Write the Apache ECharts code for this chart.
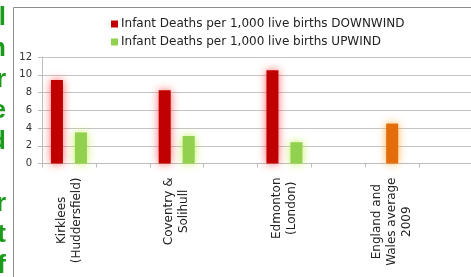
<!DOCTYPE html>
<html>
<head>
<meta charset="utf-8">
<script src="https://cdn.jsdelivr.net/npm/echarts@6/dist/echarts.min.js"></script>
<style>
  html, body { margin: 0; padding: 0; background: #fff; }
  #chart { width: 471px; height: 277px; }
</style>
</head>
<body>
<div id="chart"></div>
<script>
  // categories (blank slots are spacer columns in the source sheet)
  const categories = [
    'Kirklees\n(Huddersfield)', '',
    'Coventry &\nSolihull', '',
    'Edmonton\n(London)', '',
    'England and\nWales average\n2009', '',
  ];
  const downwindName = 'Infant Deaths per 1,000 live births DOWNWIND';
  const upwindName = 'Infant Deaths per 1,000 live births UPWIND';
  const averageName = 'England and Wales average 2009';

  const downwind = [9.4, null, 8.25, null, 10.5, null, null, null];
  const average = [null, null, null, null, null, null, 4.5, null];
  const upwind = [3.5, null, 3.1, null, 2.4, null, null, null];

  const yTicks = { min: 0, max: 12, interval: 2 };

  const chart = echarts.init(document.getElementById('chart'));

  const barSeries = (name, data, color, glow) => ({
    name,
    type: 'bar',
    data,
    barWidth: 12,
    barGap: '0%',
    itemStyle: {
      color,
      shadowBlur: 8,
      shadowColor: glow,
      shadowOffsetX: 0,
      shadowOffsetY: 0,
    },
  });

  const option = {
    animation: false,
    textStyle: { fontFamily: '"DejaVu Sans", Verdana, sans-serif' },
    graphic: [
      {
        type: 'polyline',
        silent: true,
        shape: { points: [[13.5, 277], [13.5, 7.5], [471, 7.5]] },
        style: { stroke: '#8c8c8c', lineWidth: 1, fill: null },
      },
      {
        type: 'text',
        silent: true,
        x: 6,
        y: 2,
        style: {
          text: 'll\non\nor\nre\nld\n\nr\nt\nf',
          font: 'bold 26px "Liberation Sans"',
          lineHeight: 31,
          align: 'right',
          verticalAlign: 'top',
          fill: '#1c9a1c',
        },
      },
    ],
    legend: {
      orient: 'vertical',
      left: 106,
      top: 13,
      itemWidth: 7,
      itemHeight: 7,
      itemGap: 6,
      icon: 'rect',
      data: [downwindName, upwindName],
      textStyle: { fontSize: 12, color: '#222', fontFamily: '"DejaVu Sans"', padding: [0, 0, 0, -2] },
    },
    grid: {
      left: 42,
      right: -2,
      top: 57,
      bottom: 113.5,
      containLabel: false,
      outerBoundsMode: 'none',
    },
    xAxis: {
      type: 'category',
      data: categories,
      axisLine: { lineStyle: { color: '#bdbdbd' } },
      axisTick: { show: true, length: 4, lineStyle: { color: '#bdbdbd' } },
      axisLabel: {
        interval: 0,
        rotate: 90,
        align: 'right',
        margin: 14,
        color: '#222',
        // each line centred within the rotated label block
        formatter: (v) => v ? v.split('\n').map(l => `{c|${l}}`).join('\n') : '',
        rich: {
          c: {
            align: 'center',
            fontSize: 12,
            lineHeight: 15,
            color: '#222',
            fontFamily: '"DejaVu Sans"',
          },
        },
      },
    },
    yAxis: {
      type: 'value',
      min: yTicks.min,
      max: yTicks.max,
      interval: yTicks.interval,
      axisLine: { show: true, lineStyle: { color: '#bdbdbd' } },
      axisTick: { show: true, length: 4, lineStyle: { color: '#bdbdbd' } },
      axisLabel: { fontSize: 10, color: '#333', margin: 10 },
      splitLine: { lineStyle: { color: '#c4c4c4' } },
    },
    series: [
      barSeries(downwindName, downwind, '#C00000', 'rgba(255,70,70,0.85)'),
      barSeries(averageName, average, '#E46C0A', 'rgba(255,165,50,0.85)'),
      barSeries(upwindName, upwind, '#92D050', 'rgba(185,235,60,0.85)'),
    ],
  };

  chart.setOption(option);
</script>
</body>
</html>
